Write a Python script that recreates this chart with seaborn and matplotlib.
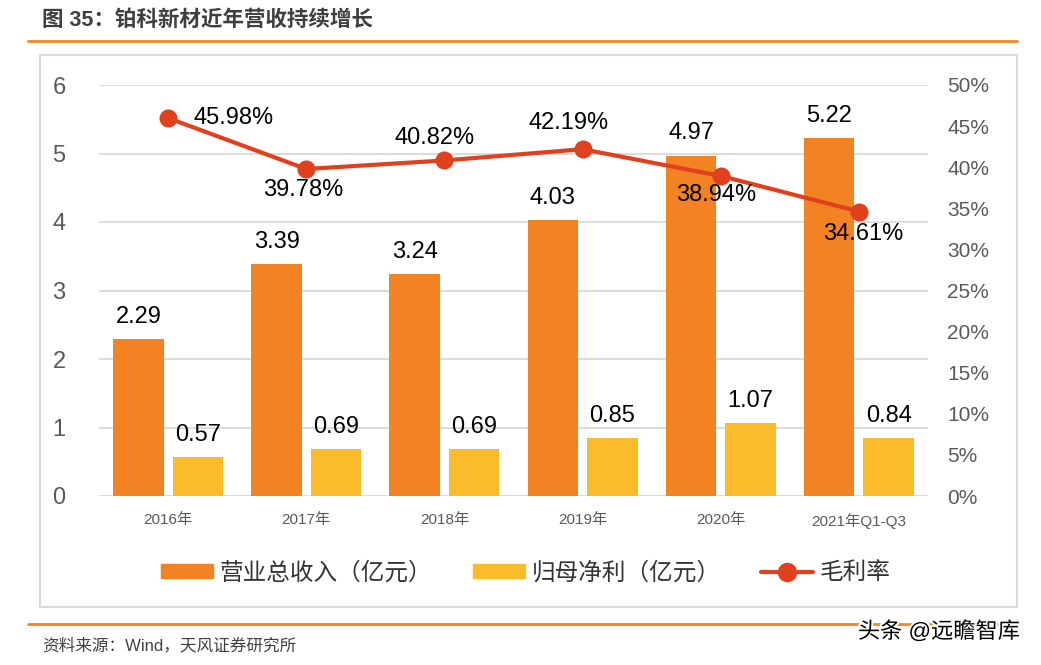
import numpy as np
import pandas as pd
import matplotlib
matplotlib.use("Agg")
import matplotlib.pyplot as plt
from matplotlib.patches import Rectangle, Patch
from matplotlib.lines import Line2D
import matplotlib.patheffects as pe
import seaborn as sns

# data
years = ["2016年", "2017年", "2018年", "2019年", "2020年", "2021年Q1-Q3"]
revenue = [2.29, 3.39, 3.24, 4.03, 4.97, 5.22]        # 营业总收入（亿元）
net_profit = [0.57, 0.69, 0.69, 0.85, 1.07, 0.84]     # 归母净利（亿元）
gross_margin = [45.98, 39.78, 40.82, 42.19, 38.94, 34.61]  # 毛利率 %
series_names = ["营业总收入（亿元）", "归母净利（亿元）", "毛利率"]
right_ticks = [0, 5, 10, 15, 20, 25, 30, 35, 40, 45, 50]

c_rev = "#F38222"
c_np = "#FBBC2B"
c_gm = "#E0401E"
c_grid = "#D9D9D9"
c_tick = "#595959"

sns.set_theme(style="white")
plt.rcParams['font.family'] = ['Liberation Sans', 'Noto Sans CJK SC', 'DejaVu Sans']

df = pd.DataFrame({
    "year": years * 2,
    "value": revenue + net_profit,
    "series": [series_names[0]] * len(years) + [series_names[1]] * len(years),
})

fig = plt.figure(figsize=(10.41, 6.65), dpi=100)
ax = fig.add_axes([99 / 1041, 1 - 496 / 665, (928 - 99) / 1041, (496 - 85) / 665])

sns.barplot(data=df, x="year", y="value", hue="series", order=years,
            palette=[c_rev, c_np], width=0.86, gap=0.15, saturation=1,
            linewidth=0, ax=ax, legend=False, errorbar=None)

ax.set_ylim(0, 6)
ax.set_yticks(range(7))
ax.set_xlim(-0.5, len(years) - 0.5)
ax.yaxis.grid(True, color=c_grid, lw=1.3)
ax.set_axisbelow(True)
for s in ax.spines.values():
    s.set_visible(False)
ax.set_xlabel("")
ax.set_ylabel("")
ax.tick_params(axis="y", labelsize=17, labelcolor=c_tick, length=0, pad=24)
ax.tick_params(axis="x", labelsize=11, labelcolor=c_tick, length=0, pad=12)

# bar value labels
for cont in ax.containers:
    ax.bar_label(cont, fmt="%.2f", fontsize=17, color="black", padding=8)

# gross margin line on right axis
ax2 = ax.twinx()
sns.lineplot(x=np.arange(len(years)), y=gross_margin, ax=ax2, color=c_gm,
             lw=3, marker="o", markersize=13, markeredgewidth=0)
ax2.set_ylim(0, 50)
ax2.set_yticks(right_ticks)
ax2.set_yticklabels([f"{t}%" for t in right_ticks])
ax2.tick_params(axis="y", labelsize=15, labelcolor=c_tick, length=0, pad=14)
for s in ax2.spines.values():
    s.set_visible(False)
ax2.grid(False)

label_offsets = [(47, 0), (-2, -15), (-7, 16), (-10, 19), (-3, -14), (3, -16)]
for i, (v, off) in enumerate(zip(gross_margin, label_offsets)):
    ax2.annotate(f"{v:.2f}%", (i, v), xytext=off, textcoords="offset points",
                 ha="center", va="center", fontsize=17, color="black")

# legend
handles = [Patch(color=c_rev), Patch(color=c_np),
           Line2D([], [], color=c_gm, lw=3, marker="o", markersize=13)]
fig.legend(handles, series_names, loc="center", bbox_to_anchor=(0.505, 1 - 573 / 665),
           ncol=3, frameon=False, fontsize=17, handlelength=2.2, handleheight=0.5,
           columnspacing=1.7, handletextpad=0.3)
for t in fig.legends[0].get_texts():
    t.set_color("#333333")

# frame around chart
fig.patches.append(Rectangle((40 / 1041, 1 - 607 / 665), (1017 - 40) / 1041, (607 - 55) / 665,
                             transform=fig.transFigure, fill=False, edgecolor=c_grid, lw=1.5))
# title and rules
fig.text(42 / 1041, 1 - 20 / 665, "图 35：铂科新材近年营收持续增长", fontsize=15.5,
         fontweight="bold", color="#3F3F3F", va="center", ha="left")
fig.add_artist(Line2D([28 / 1041, 1017 / 1041], [1 - 41 / 665] * 2, color="#F08526", lw=2,
                      transform=fig.transFigure))
fig.add_artist(Line2D([28 / 1041, 1017 / 1041], [1 - 624 / 665] * 2, color="#F08526", lw=2,
                      transform=fig.transFigure))
fig.text(42 / 1041, 1 - 645 / 665, "资料来源：Wind，天风证券研究所", fontsize=12,
         color="#404040", va="center", ha="left")
fig.text(1020 / 1041, 1 - 632 / 665, "头条 @远瞻智库", fontsize=16, color="black",
         va="center", ha="right",
         path_effects=[pe.withStroke(linewidth=3, foreground="white")])

fig.savefig("out.png", dpi=100)
